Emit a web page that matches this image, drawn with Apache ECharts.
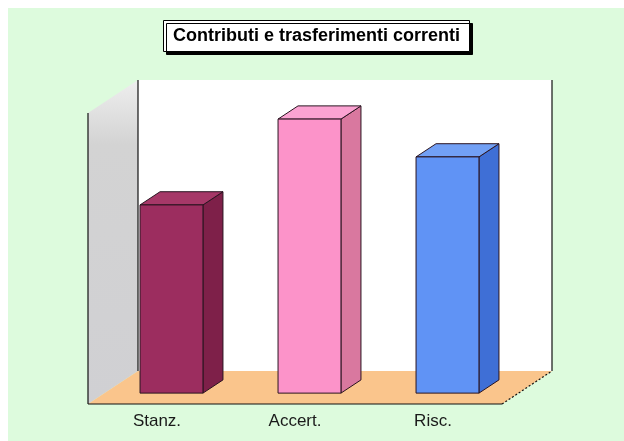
<!DOCTYPE html>
<html>
<head>
<meta charset="utf-8">
<script src="https://cdn.jsdelivr.net/npm/echarts@6/dist/echarts.min.js"></script>
<style>
  html, body { margin: 0; padding: 0; background: #fff; }
  #chart { width: 624px; height: 441px; }
</style>
</head>
<body>
<div id="chart"></div>
<script>
var categories = ['Stanz.', 'Accert.', 'Risc.'];
var values = [388, 565, 487];
var frontColors = ['#9c2d5f', '#fc93c9', '#6093f5'];
var sideColors = ['#7e2049', '#d9789f', '#3f6fd6'];
var topColors = ['#a63868', '#fba3d2', '#72a0f5'];

// depth of the 3D box, going from front plane to back wall
var DX = 50, DY = -33;
var FRONT = 0.33, BACK = 0.73;

var chart = echarts.init(document.getElementById('chart'));

function renderWalls(params, api) {
    var cs = params.coordSys;
    var x = cs.x, y = cs.y, w = cs.width, h = cs.height;
    var line = { stroke: '#111', lineWidth: 1.2 };
    return {
        type: 'group',
        children: [
            { type: 'polygon', shape: { points: [[x + DX, y + DY], [x + w + DX, y + DY], [x + w + DX, y + h + DY], [x + DX, y + h + DY]] },
              style: { fill: '#ffffff' } },
            { type: 'polygon', shape: { points: [[x, y], [x + DX, y + DY], [x + DX, y + h + DY], [x, y + h]] },
              style: { fill: new echarts.graphic.LinearGradient(0, 0, 0, 1, [
                  { offset: 0, color: '#eeeeee' }, { offset: 0.2, color: '#d3d3d3' }, { offset: 1, color: '#d0d0d3' }]) } },
            { type: 'polygon', shape: { points: [[x, y + h], [x + DX, y + h + DY], [x + w + DX, y + h + DY], [x + w, y + h]] },
              style: { fill: '#fac58c' } },
            { type: 'line', shape: { x1: x, y1: y, x2: x, y2: y + h }, style: line },
            { type: 'line', shape: { x1: x + DX, y1: y + DY, x2: x + DX, y2: y + h + DY }, style: line },
            { type: 'line', shape: { x1: x + w + DX, y1: y + DY, x2: x + w + DX, y2: y + h + DY }, style: line },
            { type: 'line', shape: { x1: x, y1: y + h, x2: x + w, y2: y + h }, style: line },
            { type: 'line', shape: { x1: x + w, y1: y + h, x2: x + w + DX, y2: y + h + DY },
              style: { stroke: '#111', lineWidth: 1.2, lineDash: [2, 2] } }
        ]
    };
}

function renderBar(params, api) {
    var i = params.dataIndex;
    var base = api.coord([api.value(0), 0]);
    var top = api.coord([api.value(0), api.value(1)]);
    var w = api.size([1, 0])[0] * 0.456;
    var fx = base[0] - w / 2 + DX * FRONT - 2;
    var yb = base[1] + DY * FRONT;
    var yt = top[1] + DY * FRONT;
    var dx = DX * (BACK - FRONT), dy = DY * (BACK - FRONT);
    var edge = { stroke: '#2a1420', lineWidth: 1 };
    return {
        type: 'group',
        children: [
            { type: 'polygon', shape: { points: [[fx + w, yt], [fx + w + dx, yt + dy], [fx + w + dx, yb + dy], [fx + w, yb]] },
              style: Object.assign({ fill: sideColors[i] }, edge) },
            { type: 'polygon', shape: { points: [[fx, yt], [fx + dx, yt + dy], [fx + w + dx, yt + dy], [fx + w, yt]] },
              style: Object.assign({ fill: topColors[i] }, edge) },
            { type: 'rect', shape: { x: fx, y: yt, width: w, height: yb - yt },
              style: Object.assign({ fill: frontColors[i] }, edge) }
        ]
    };
}

var option = {
    backgroundColor: '#ffffff',
    animation: false,
    graphic: [{
        type: 'rect', left: 8, top: 8, z: -10,
        shape: { width: 616, height: 433 },
        style: { fill: '#ddfbdd' }
    }],
    title: {
        text: 'Contributi e trasferimenti correnti',
        left: 163,
        top: 20,
        padding: [7, 10, 7, 10],
        backgroundColor: '#ffffff',
        borderColor: '#000',
        borderWidth: 1,
        shadowColor: '#000',
        shadowBlur: 0,
        shadowOffsetX: 3,
        shadowOffsetY: 3,
        textStyle: {
            fontFamily: 'Liberation Sans',
            fontSize: 18,
            fontWeight: 'bold',
            color: '#000'
        }
    },
    grid: {
        left: 88,
        top: 113,
        width: 414,
        height: 291
    },
    xAxis: {
        type: 'category',
        data: categories,
        axisLine: { show: false },
        axisTick: { show: false },
        axisLabel: {
            fontFamily: 'Liberation Sans',
            fontSize: 17,
            color: '#1a1a1a',
            margin: 9
        }
    },
    yAxis: {
        type: 'value',
        min: 0,
        max: 600,
        interval: 100,
        show: false
    },
    series: [{
        type: 'custom',
        renderItem: renderWalls,
        data: [[0, 0]],
        z: 1,
        silent: true
    }, {
        type: 'custom',
        renderItem: renderBar,
        data: values.map(function (v, i) { return [i, v]; }),
        z: 3
    }]
};
chart.setOption(option);
</script>
</body>
</html>
